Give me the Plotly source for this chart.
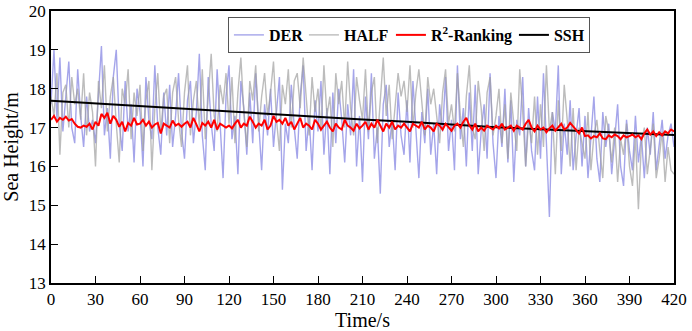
import plotly.graph_objects as go

# time axis (2 s sampling) for the noisy series
time_s = list(range(0, 421, 2))

der = [
    17.6, 19.0, 17.2, 18.8, 16.9, 17.9, 18.7, 17.0, 16.6, 18.5, 17.3, 16.5, 17.8, 16.9, 17.2,
    16.6, 17.9, 19.1, 16.8, 17.5, 16.2, 18.3, 19.0, 17.1, 16.4, 18.2, 16.9, 17.6, 16.1, 18.0,
    17.4, 16.0, 18.3, 17.2, 16.7, 18.6, 17.0, 16.3, 17.9, 16.8, 18.1, 16.5, 17.3, 18.4, 16.9,
    16.2, 17.7, 18.2, 16.6, 17.4, 18.9, 16.8, 15.9, 18.3, 17.1, 16.4, 18.5, 17.0, 15.7, 17.8,
    18.6, 16.7, 17.3, 15.8, 18.2, 17.5, 16.3, 17.9, 16.6, 18.4, 17.2, 15.9, 17.6, 16.8, 18.0,
    16.5, 17.4, 18.3, 15.4, 17.1, 16.6, 18.1, 17.0, 16.2, 17.8, 18.6, 16.4, 17.3, 15.9, 17.7,
    16.9, 18.2, 16.3, 17.5, 15.8, 17.9, 16.6, 18.0, 17.2, 16.1, 17.6, 16.8, 18.5, 16.0, 17.3,
    15.6, 17.8, 16.7, 18.4, 16.2, 17.0, 15.3, 17.6, 18.1, 16.5, 17.2, 15.9, 17.9, 16.8, 16.3,
    17.7, 16.1, 18.2, 16.9, 15.7, 17.4, 16.6, 18.0, 16.3, 17.1, 15.8, 17.6, 16.9, 18.3, 16.4,
    17.2, 15.9, 18.6, 16.7, 17.5, 16.0, 17.9, 16.4, 18.1, 15.8, 16.9, 17.6, 16.2, 18.4, 16.6,
    15.7, 17.3, 16.5, 18.0, 16.1, 17.7, 15.6, 17.2, 16.8, 18.3, 16.0, 17.5, 16.4, 15.9, 17.8,
    16.2, 18.4, 16.6, 14.7, 17.4, 16.9, 18.6, 15.8, 17.1, 16.3, 17.7, 15.9, 16.8, 17.5, 16.0,
    17.3, 15.7, 16.9, 17.8, 16.2, 15.6, 17.4, 16.5, 17.1, 15.8, 16.7, 17.6, 16.0, 15.5, 17.2,
    16.4, 15.9, 17.3, 16.1, 16.8, 15.7, 17.0, 16.3, 17.4, 15.9, 16.6, 17.2, 16.2, 16.8, 17.1,
    16.5,
]

half = [
    17.8, 17.3, 18.4, 16.3, 17.9, 18.1, 17.0, 18.3, 17.6, 18.0, 17.2, 18.4, 16.8, 17.9, 17.4,
    16.0, 18.2, 17.5, 18.6, 16.9, 17.8, 18.3, 17.1, 16.1, 18.0, 17.6, 18.5, 16.7, 17.9, 17.3,
    18.1, 16.4, 17.7, 18.2, 15.9, 17.5, 18.4, 16.9, 17.8, 18.0, 16.6, 17.9, 18.3, 17.2, 16.5,
    17.9, 18.6, 16.8, 17.7, 18.2, 17.0, 18.5, 16.7, 17.8, 18.9, 17.3, 16.9, 18.1, 17.6, 18.4,
    17.1, 18.3, 16.6, 17.9, 18.8, 17.4, 16.5, 18.2, 17.7, 18.6, 16.9, 17.8, 18.4, 17.3, 17.9,
    18.7, 17.2, 16.4, 18.1, 17.6, 18.5, 17.0, 18.2, 18.4, 17.5, 18.8, 17.7, 16.8, 18.3, 17.4,
    18.0, 16.9, 18.6, 17.3, 17.8, 16.5, 18.4, 17.6, 18.2, 17.0, 18.7, 17.5, 16.8, 18.3, 17.7,
    17.2, 18.5, 16.9, 17.9, 18.3, 16.6, 17.7, 18.8, 17.3, 18.1, 16.7, 17.6, 18.4, 17.8, 18.2,
    17.4, 18.6, 17.0, 17.9, 18.5, 17.7, 16.8, 18.3, 17.6, 18.0, 17.2, 16.6, 17.9, 18.5, 17.1,
    17.6, 16.9, 18.4, 17.3, 16.5, 17.8, 18.6, 17.0, 16.7, 18.2, 17.5, 16.4, 17.9, 18.3, 16.8,
    17.3, 18.0, 16.6, 17.6, 16.2, 17.9, 17.1, 16.4, 18.5, 17.4, 16.0, 17.2, 16.6, 17.8, 16.3,
    17.6, 16.5, 18.6, 16.9, 17.4, 15.8, 17.7, 16.4, 18.1, 17.2, 16.0, 17.5, 15.9, 17.0, 16.6,
    16.2, 17.4, 15.9, 16.8, 17.2, 16.4, 15.7, 17.3, 16.9, 16.1, 17.0, 15.6, 16.7, 16.3, 17.1,
    16.0, 15.5, 16.8, 14.9, 16.6, 17.0, 15.8, 16.4, 17.1, 15.7, 16.2, 16.9, 15.6, 16.5, 15.9,
    15.8,
]

r2_ranking = [
    17.2, 17.3, 17.15, 17.25, 17.2, 17.28, 17.18, 17.22, 17.1, 17.02, 17.0, 17.05, 17.02, 17.1, 16.95,
    17.15, 17.05, 17.35, 17.25, 17.38, 17.1, 17.3, 17.2, 17.02, 17.15, 16.9, 17.12, 17.05, 17.25, 17.08,
    17.1, 17.2, 17.05, 17.15, 17.0, 17.08, 17.12, 16.85, 17.1, 17.05, 17.0, 17.18, 17.05, 17.1, 17.02,
    17.1, 17.15, 17.0, 17.25, 17.08, 16.9, 17.12, 17.05, 17.15, 17.0, 17.2, 16.95, 17.1, 17.05, 17.0,
    17.05, 16.98, 17.1, 17.2, 17.0, 17.1, 17.05, 17.28, 17.15, 17.0, 17.1, 17.05, 17.2, 16.95, 17.05,
    17.3, 17.15, 17.2, 17.1, 17.25, 17.05, 17.15, 16.95, 17.1, 17.25, 17.0, 17.1, 17.05, 16.95, 17.2,
    17.1, 16.95, 17.05, 17.15, 17.0, 16.9, 17.1, 17.0, 16.95, 17.2, 17.05, 17.0, 16.92, 17.1, 16.98,
    17.05, 17.15, 16.95, 17.1, 17.0, 17.2, 17.05, 16.9, 17.1, 17.0, 17.15, 16.95, 17.05, 17.0, 17.1,
    17.0, 16.9, 17.1, 17.05, 17.0, 17.15, 16.95, 17.05, 17.0, 16.9, 17.1, 17.05, 16.95, 17.1, 17.0,
    16.92, 17.05, 17.1, 17.0, 17.15, 17.25, 17.05, 16.95, 17.1, 16.9, 17.0, 16.92, 17.05, 17.0, 16.95,
    17.05, 16.98, 17.1, 16.95, 17.0, 17.05, 16.92, 17.05, 17.0, 16.95, 17.1, 17.2, 17.0, 16.9, 17.05,
    16.95, 17.0, 16.88, 16.98, 17.05, 16.92, 17.0, 17.1, 16.95, 17.0, 17.12, 17.02, 16.95, 16.85, 17.0,
    16.78, 16.8, 16.72, 16.78, 16.75, 16.85, 16.72, 16.7, 16.8, 16.75, 16.82, 16.78, 16.7, 16.8, 16.75,
    16.78, 16.82, 16.75, 16.8, 16.7, 16.85, 16.95, 16.82, 16.9, 16.78, 16.88, 16.8, 16.9, 16.85, 16.95,
    16.9,
]

ssh_time = [0, 30, 60, 90, 120, 150, 180, 210, 240, 270, 300, 330, 360, 390, 420]
ssh = [17.69, 17.62, 17.55, 17.48, 17.41, 17.34, 17.27, 17.21, 17.15, 17.08, 17.01, 16.96, 16.91, 16.86, 16.81]

x_ticks = list(range(0, 421, 30))
y_ticks = [13, 14, 15, 16, 17, 18, 19, 20]

FONT = "Liberation Serif"

fig = go.Figure()
fig.add_trace(go.Scatter(x=time_s, y=der, mode="lines", name="DER", legendwidth=30,
                         line=dict(color="rgba(105,105,220,0.6)", width=1.4), legendrank=1))
fig.add_trace(go.Scatter(x=time_s, y=half, mode="lines", name="HALF", legendwidth=42,
                         line=dict(color="rgba(160,160,160,0.7)", width=1.4), legendrank=2))
fig.add_trace(go.Scatter(x=ssh_time, y=ssh, mode="lines", name="SSH", legendwidth=30,
                         line=dict(color="black", width=2), legendrank=4))
fig.add_trace(go.Scatter(x=time_s, y=r2_ranking, mode="lines", name="R<sup>2</sup>-Ranking",
                         legendwidth=78,
                         line=dict(color="#ff0000", width=2), legendrank=3))

fig.update_layout(
    template="none",
    width=692, height=331,
    margin=dict(l=51, r=18, t=11, b=48, autoexpand=False),
    paper_bgcolor="white", plot_bgcolor="white",
    font=dict(family=FONT, size=17, color="black"),
    showlegend=True,
    legend=dict(orientation="h", x=0.284, y=0.978, xanchor="left", yanchor="top",
                bgcolor="white", bordercolor="#555", borderwidth=1,
                font=dict(family=FONT, size=16, color="black", weight="bold"),
                itemwidth=30, tracegroupgap=0),
)
fig.update_xaxes(range=[0, 420], tickvals=x_ticks, ticks="inside", ticklen=7, tickwidth=1.2,
                 tickcolor="black", showline=True, linecolor="black", linewidth=1.5, mirror=True,
                 showgrid=False, zeroline=False, automargin=False,
                 tickfont=dict(family=FONT, size=17),
                 title=dict(text="Time/s", font=dict(family=FONT, size=20), standoff=6))
fig.update_yaxes(range=[13, 20], tickvals=y_ticks, ticks="inside", ticklen=7, tickwidth=1.2,
                 tickcolor="black", showline=True, linecolor="black", linewidth=1.5, mirror=True,
                 showgrid=False, zeroline=False, automargin=False,
                 tickfont=dict(family=FONT, size=17),
                 title=dict(text="Sea Height/m", font=dict(family=FONT, size=20), standoff=6))

fig.write_html("out.html", config={"displayModeBar": False},
               post_script="document.body.style.margin='0';")
